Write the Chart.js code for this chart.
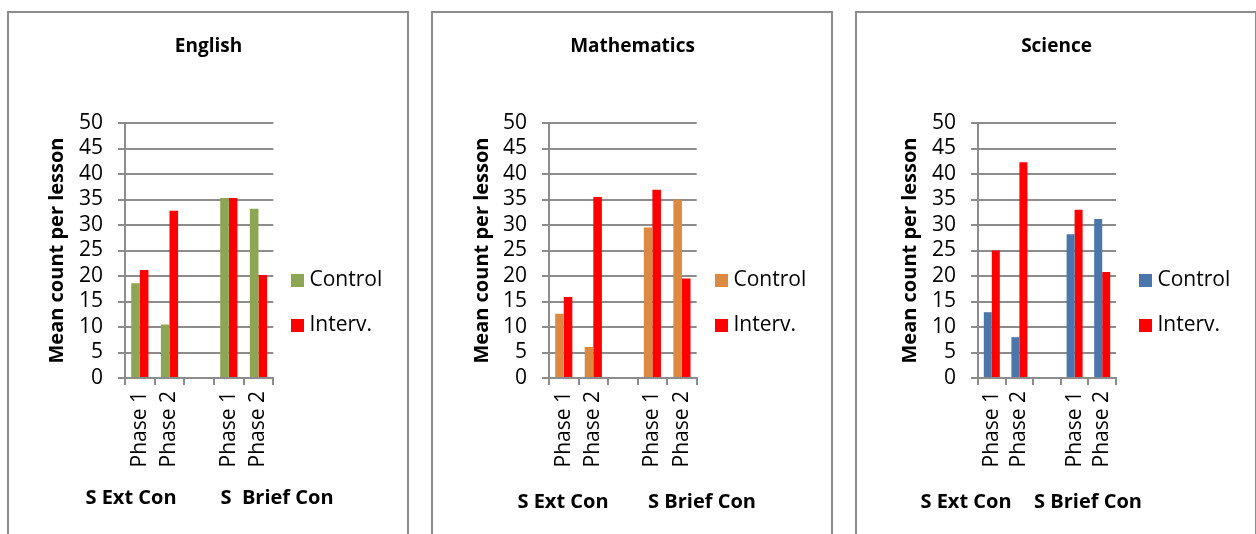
<!DOCTYPE html>
<html>
<head>
<meta charset="utf-8">
<title>Mean count per lesson by subject</title>
<script src="https://cdn.jsdelivr.net/npm/chart.js@4.4.1/dist/chart.umd.min.js"></script>
<style>
  html, body { margin: 0; padding: 0; background: #fff; width: 1256px; height: 534px; overflow: hidden; }
  .panel { position: absolute; top: 11px; width: 402px; height: 600px; box-sizing: border-box; border: 2px solid #8c8c8c; }
  canvas.chart { position: absolute; top: 0; }
</style>
</head>
<body>
<div class="panel" style="left:7px"></div>
<div class="panel" style="left:431px"></div>
<div class="panel" style="left:855px"></div>
<canvas class="chart" id="c0" width="401" height="534" style="left:8px"></canvas>
<canvas class="chart" id="c1" width="401" height="534" style="left:432px"></canvas>
<canvas class="chart" id="c2" width="401" height="534" style="left:856px"></canvas>
<script>
// ---- data ----
const categories = ['Phase 1', 'Phase 2', '', 'Phase 1', 'Phase 2'];
const seriesNames = ['Control', 'Interv.'];
const subjectTitles = ['English', 'Mathematics', 'Science'];
const groupLabels = [
  ['S Ext Con', 'S  Brief Con'],
  ['S Ext Con', 'S Brief Con'],
  ['S Ext Con', 'S Brief Con']
];
const englishControl = [18.6, 10.5, null, 35.3, 33.2];
const englishInterv  = [21.2, 32.8, null, 35.3, 20.2];
const mathsControl   = [12.6, 6.1, null, 29.5, 35.0];
const mathsInterv    = [15.9, 35.5, null, 36.9, 19.5];
const scienceControl = [12.9, 8.0, null, 28.2, 31.2];
const scienceInterv  = [25.0, 42.3, null, 33.0, 20.8];
const yMin = 0, yMax = 50, yStep = 5;
const yAxisTitle = 'Mean count per lesson';

// ---- styling / layout ----
const controlColors = ['#8CA653', '#DE8941', '#4A76AA'];
const intervColor = '#FF0000';
const gridColor = '#8c8c8c';
const FONT = "'Open Sans', 'DejaVu Sans', sans-serif";

const panelLayout = [
  { plotLeft: 117, plotRight: 265.3, yTitleX: 49, groupX: [123, 269], groupY: 498 },
  { plotLeft: 117, plotRight: 264.7, yTitleX: 50, groupX: [131, 270], groupY: 502 },
  { plotLeft: 122, plotRight: 260.0, yTitleX: 54, groupX: [110, 232], groupY: 502 }
];
const CANVAS_W = 401, CANVAS_H = 534;
const PLOT_TOP = 123, PLOT_BOTTOM = 378;

const seriesByPanel = [
  [englishControl, englishInterv],
  [mathsControl, mathsInterv],
  [scienceControl, scienceInterv]
];

// Panel heading, legend entries and the two category-group captions under the axis
const panelExtras = {
  id: 'panelExtras',
  afterDraw(chart, args, opts) {
    const ctx = chart.ctx;
    ctx.save();
    ctx.fillStyle = '#000';
    ctx.font = 'bold 19px ' + FONT;
    ctx.textAlign = 'center';
    ctx.textBaseline = 'middle';
    ctx.fillText(opts.heading, chart.width / 2, opts.headingY);

    ctx.font = '21px ' + FONT;
    ctx.textAlign = 'left';
    chart.data.datasets.forEach((ds, i) => {
      const cy = opts.legendY + i * opts.legendGap;
      ctx.fillStyle = ds.backgroundColor;
      ctx.fillRect(opts.legendX, cy - 6.5, 13, 13);
      ctx.fillStyle = '#000';
      ctx.fillText(ds.label, opts.legendX + 18.5, cy);
    });

    ctx.font = 'bold 20px ' + FONT;
    ctx.textAlign = 'center';
    opts.groups.forEach((g, i) => {
      ctx.fillText(g, opts.groupX[i], opts.groupY);
    });
    ctx.restore();
  }
};

Chart.defaults.font.family = FONT;
Chart.defaults.color = '#000';

subjectTitles.forEach((subject, p) => {
  const lay = panelLayout[p];
  const yTitleSize = 20;
  new Chart(document.getElementById('c' + p), {
    type: 'bar',
    data: {
      labels: categories,
      datasets: [
        { label: seriesNames[0], data: seriesByPanel[p][0], backgroundColor: controlColors[p] },
        { label: seriesNames[1], data: seriesByPanel[p][1], backgroundColor: intervColor }
      ]
    },
    plugins: [panelExtras],
    options: {
      responsive: false,
      animation: false,
      events: [],
      categoryPercentage: 0.58,
      barPercentage: 1.0,
      layout: { padding: { left: 0, top: PLOT_TOP, bottom: 0, right: CANVAS_W - lay.plotRight } },
      plugins: {
        legend: { display: false },
        tooltip: { enabled: false },
        title: { display: false },
        panelExtras: {
          heading: subject, headingY: 47,
          legendX: 283, legendY: 280.5, legendGap: 45,
          groups: groupLabels[p], groupX: lay.groupX, groupY: lay.groupY
        }
      },
      scales: {
        x: {
          offset: true,
          grid: { display: true, drawOnChartArea: false, drawTicks: true, tickLength: 7, offset: true, color: gridColor, lineWidth: 2 },
          border: { display: true, color: gridColor, width: 2 },
          ticks: { autoSkip: false, minRotation: 90, maxRotation: 90, padding: 6, font: { size: 21 } },
          afterFit(scale) { scale.height = CANVAS_H - PLOT_BOTTOM; }
        },
        y: {
          min: yMin, max: yMax,
          ticks: { stepSize: yStep, autoSkip: false, maxTicksLimit: 20, padding: 15, font: { size: 21, lineHeight: 1 } },
          grid: { color: gridColor, lineWidth: 2, tickLength: 7, drawTicks: true },
          border: { display: true, color: gridColor, width: 2 },
          title: {
            display: true,
            text: yAxisTitle,
            font: { size: yTitleSize, weight: 'bold', lineHeight: 1.2 },
            padding: { top: lay.yTitleX - yTitleSize * 1.2 / 2, bottom: 0 }
          },
          afterFit(scale) { scale.width = lay.plotLeft; }
        }
      }
    }
  });
});
</script>
</body>
</html>
